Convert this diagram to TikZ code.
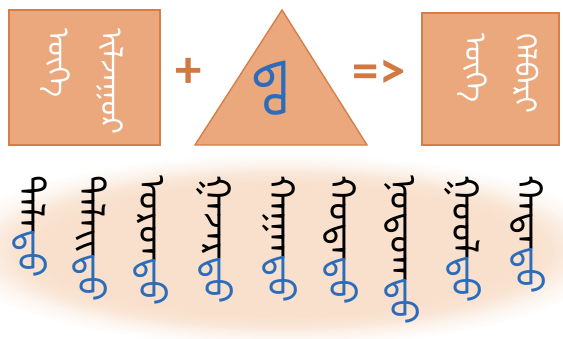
\documentclass[tikz,border=0pt]{standalone}
\usepackage{fontspec}
\usetikzlibrary{fadings}
\IfFontExistsTF{Noto Sans Mongolian}
  {\newfontfamily\mongfont[Script=Mongolian]{Noto Sans Mongolian}}
  {\newfontfamily\mongfont{DejaVu Sans}}
\newfontfamily\signfont{Carlito}
\newcommand\zwj{\char"200D}
\definecolor{boxfill}{RGB}{234,168,124}
\definecolor{boxline}{RGB}{214,126,74}
\definecolor{signcol}{RGB}{210,120,66}
\definecolor{sufblue}{RGB}{44,108,186}
\definecolor{bgorange}{RGB}{247,212,184}

\begin{document}
\begin{tikzpicture}[x=0.02cm,y=-0.02cm,
  panel/.style={draw=boxline,fill=boxfill,line width=0.8pt},
  glow/.style={fill=bgorange,fill opacity=0.45,path fading=circle with fuzzy edge 20 percent},
  sign/.style={text=signcol,font=\signfont\bfseries\fontsize{30}{30}\selectfont,inner sep=0pt},
  colw/.style={rotate=-90,anchor=west,inner sep=0pt,text=white,font=\mongfont\fontsize{17}{20}\selectfont},
  word/.style={rotate=-90,anchor=west,inner sep=0pt,font=\mongfont\fontsize{21}{24}\selectfont}]
\useasboundingbox (0,0) rectangle (563,338);
\fill[white] (0,0) rectangle (563,338);
\fill[glow] (282,250) ellipse (335 and 96);
\fill[glow] (282,250) ellipse (305 and 82);

\draw[panel] (9,10) rectangle (160,145);
\node[colw] (stema) at (55,28) {ᠦᠭᠡ};
\node[colw] (stemb) at (110,28) {ᠢᠯᠵᠠᠭᠤᠷ};

\node[sign] (plus) at (189,73) {+};

\coordinate (apex) at (282,10);
\coordinate (baseL) at (195,145);
\coordinate (baseR) at (367,145);
\draw[panel,line join=miter] (apex) -- (baseR) -- (baseL) -- cycle;
\node[rotate=-90,inner sep=0pt,text=sufblue,font=\mongfont\fontsize{30}{30}\selectfont] (suffix) at (270,88) {ᠳᠤ};

\node[sign] (yields) at (379,74) {=>};

\draw[panel] (422,13) rectangle (559,145);
\node[colw] (forma) at (472,33) {ᠦᠭᠡ};
\node[colw] (formb) at (526,33) {ᠬᠡᠯᠪᠡᠷᠢ};

\foreach \i/\x/\stem in {1/30/ᠲᠠᠯᠠ,2/90/ᠳᠠᠯᠠᠢ,3/151/ᠣᠷᠣᠨ,4/215/ᠭᠠᠵᠠᠷ,5/280/ᠬᠠᠭᠠᠨ,
                          6/341/ᠬᠣᠲᠠ,7/402/ᠨᠤᠲᠤᠭ,8/463/ᠭᠣᠣᠯ,9/528/ᠬᠠᠳᠠ}
  \node[word] (w\i) at (\x,175) {\stem\zwj{\color{sufblue}\zwj ᠳᠤ}};
\end{tikzpicture}
\end{document}
